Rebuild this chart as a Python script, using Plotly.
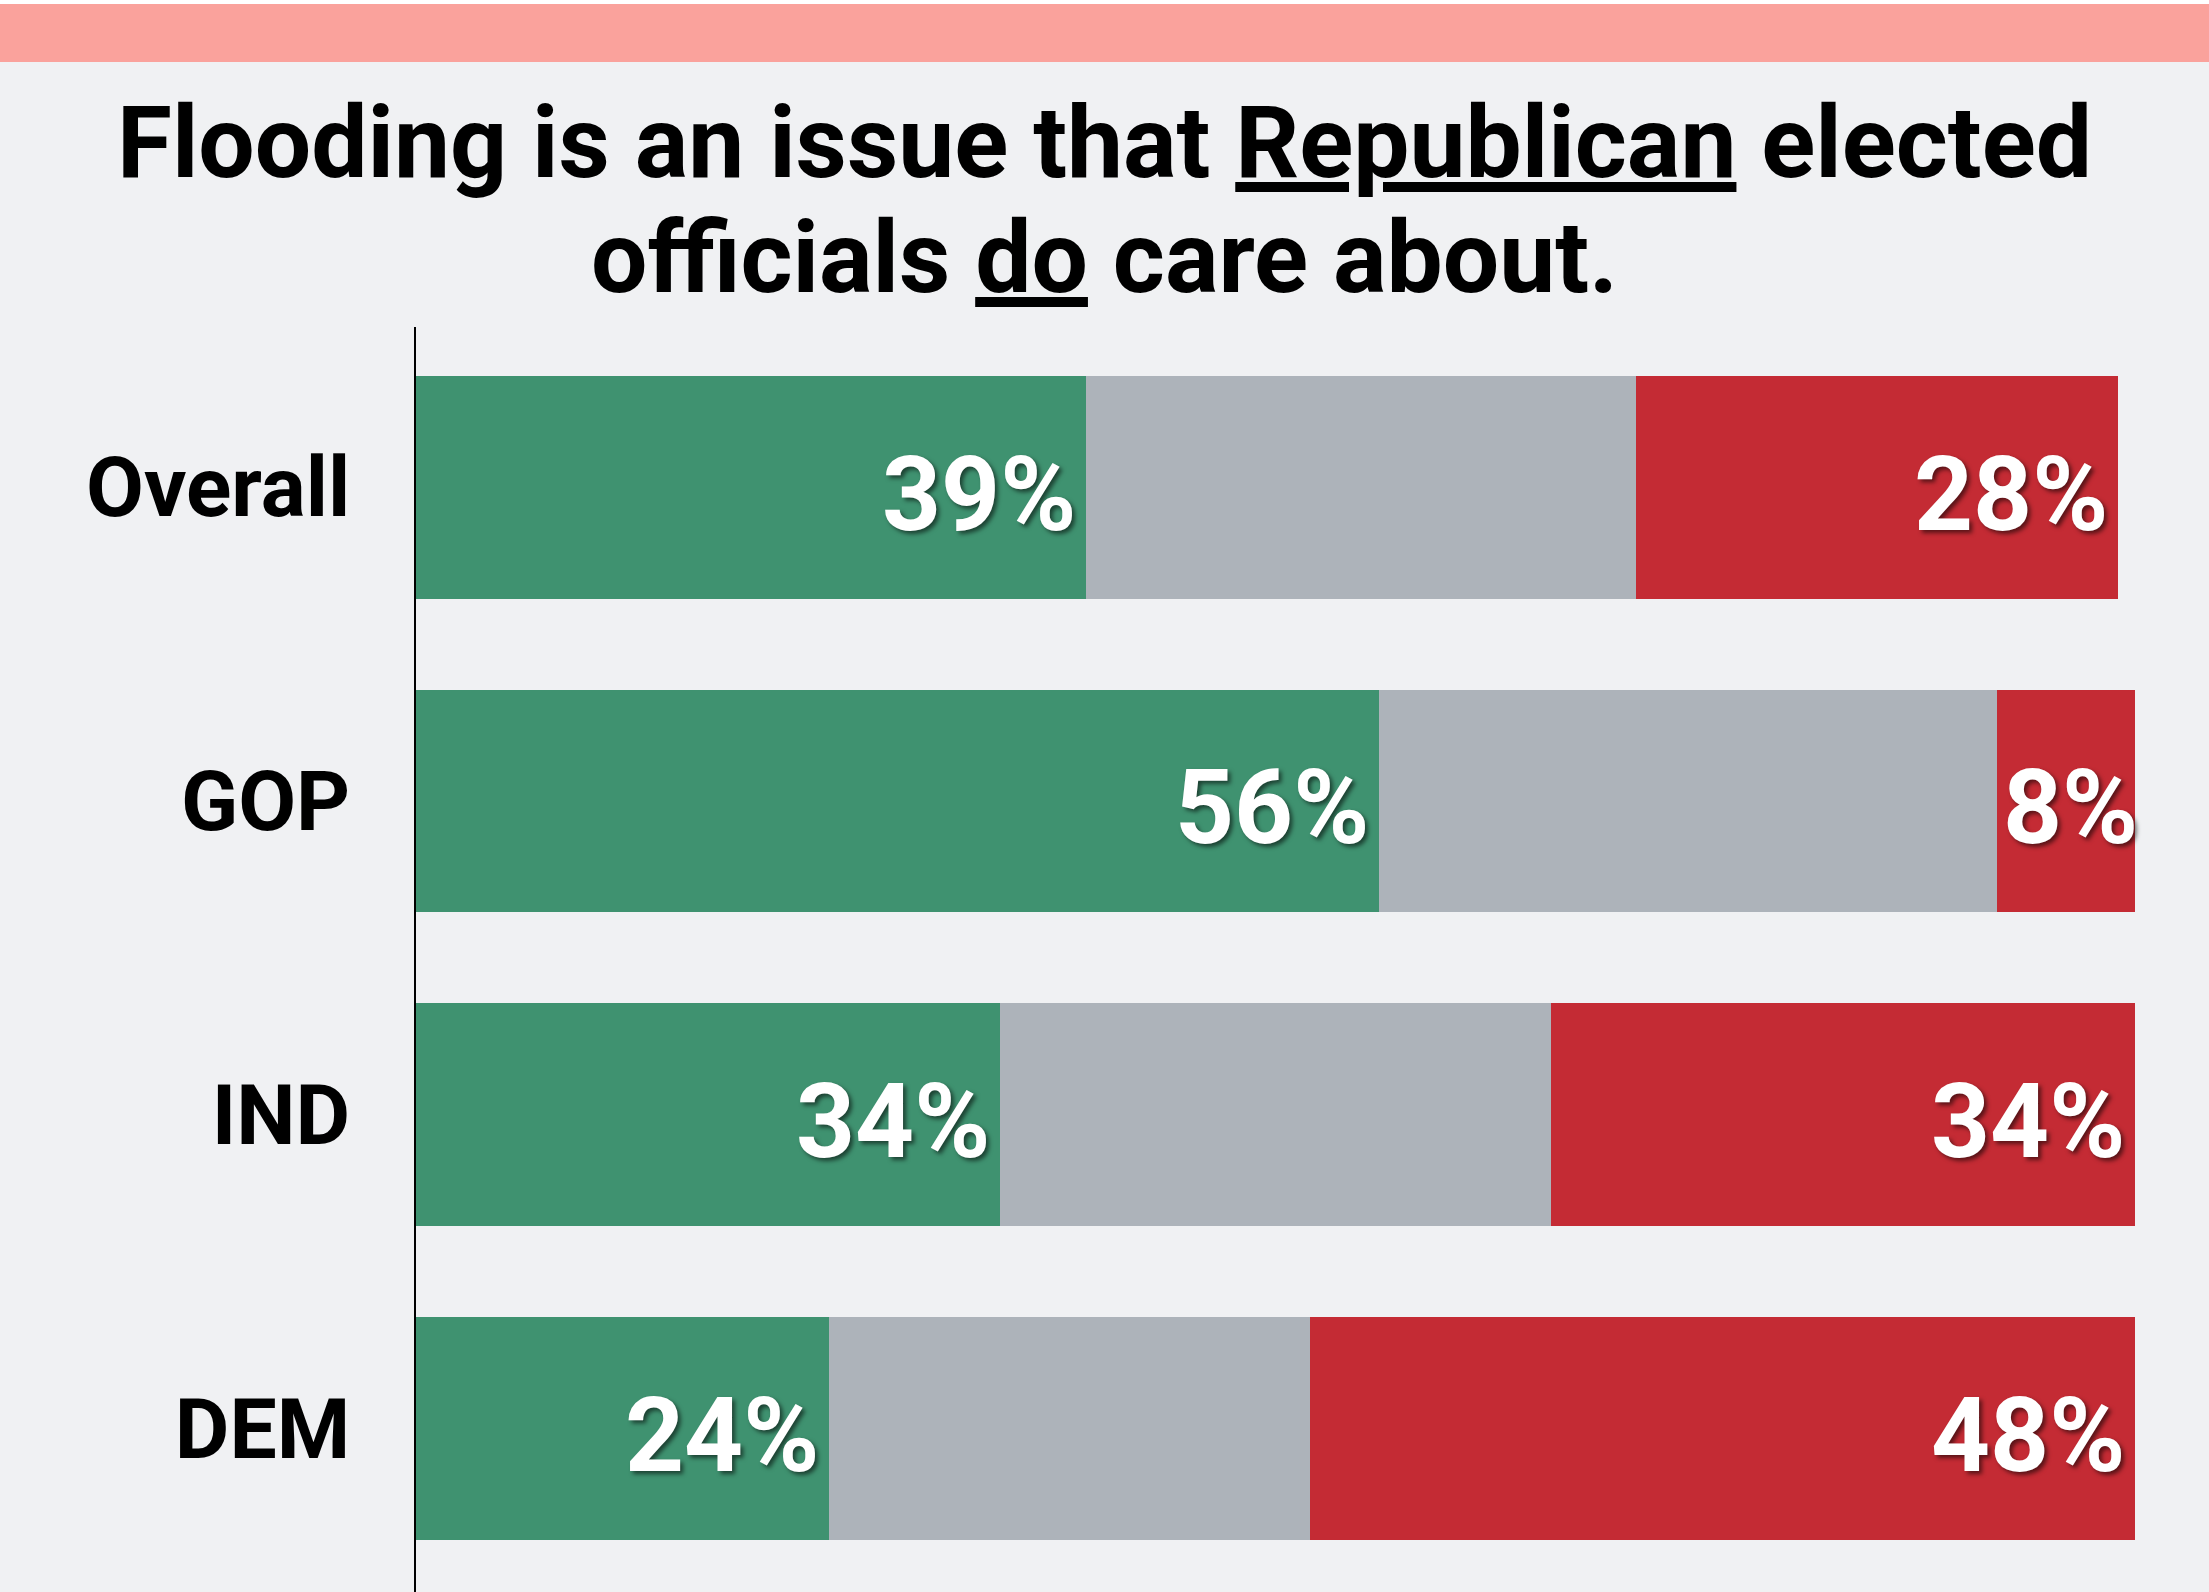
import plotly.graph_objects as go

# Survey responses by party group (percent)
groups = ["Overall", "GOP", "IND", "DEM"]
do_care = [39, 56, 34, 24]
unsure = [32, 36, 32, 28]
do_not_care = [28, 8, 34, 48]

series_names = ["Do care", "Unsure", "Do not care"]
series_colors = ["#3F9270", "#ADB3BA", "#C42B34"]

W, H = 2209, 1592
ML, MR, MT, MB = 416, 74, 327, 0
BG = "#F0F1F3"


def px_x(px):
    return (px - ML) / (W - ML - MR)


def px_y(py):
    return (H - MB - py) / (H - MT - MB)


fig = go.Figure()
for name, vals, color in zip(series_names,
                             [do_care, unsure, do_not_care],
                             series_colors):
    fig.add_trace(go.Bar(
        name=name,
        y=groups,
        x=vals,
        orientation="h",
        marker=dict(color=color, line=dict(width=0)),
        hoverinfo="skip",
    ))

# Percentage labels: "do care" at the end of the green segment,
# "do not care" at the end of the red segment (or its start when narrow)
value_font = dict(family="Roboto", size=103, color="white", weight=700,
                  shadow="3px 3px 4px rgba(0,0,0,0.55)")
for g, c, u, n in zip(groups, do_care, unsure, do_not_care):
    fig.add_annotation(x=c, y=g, text=f"{c}%", showarrow=False,
                       xanchor="right", yanchor="middle",
                       xshift=-8, yshift=-7, font=value_font)
    if n < 10:
        fig.add_annotation(x=c + u, y=g, text=f"{n}%", showarrow=False,
                           xanchor="left", yanchor="middle",
                           xshift=4, yshift=-7, font=value_font)
    else:
        fig.add_annotation(x=c + u + n, y=g, text=f"{n}%", showarrow=False,
                           xanchor="right", yanchor="middle",
                           xshift=-8, yshift=-7, font=value_font)

# Header band
fig.add_shape(type="rect", xref="paper", yref="paper",
              x0=px_x(0), x1=px_x(W), y0=px_y(0), y1=px_y(4),
              fillcolor="white", line=dict(width=0), layer="below")
fig.add_shape(type="rect", xref="paper", yref="paper",
              x0=px_x(0), x1=px_x(W), y0=px_y(4), y1=px_y(62),
              fillcolor="#FAA29C", line=dict(width=0), layer="below")

title_font = dict(family="Roboto", size=100, color="black", weight=700)
fig.add_annotation(text="Flooding is an issue that <u>Republican</u> elected",
                   xref="paper", yref="paper", x=px_x(W / 2), y=px_y(143),
                   xanchor="center", yanchor="middle", showarrow=False,
                   font=title_font)
fig.add_annotation(text="officials <u>do</u> care about.",
                   xref="paper", yref="paper", x=px_x(W / 2), y=px_y(257),
                   xanchor="center", yanchor="middle", showarrow=False,
                   font=title_font)

fig.update_layout(
    width=W, height=H,
    barmode="stack",
    bargap=0.29,
    showlegend=False,
    paper_bgcolor=BG,
    plot_bgcolor=BG,
    margin=dict(l=ML, r=MR, t=MT, b=MB),
    xaxis=dict(visible=False, range=[0, 100], fixedrange=True),
    yaxis=dict(
        type="category",
        categoryorder="array",
        categoryarray=groups,
        range=[3.52, -0.51],
        autorange=False,
        showline=True,
        linecolor="black",
        linewidth=2,
        showgrid=False,
        zeroline=False,
        ticks="",
        ticklabelstandoff=47,
        tickfont=dict(family="Roboto", size=84, color="black", weight=700),
        fixedrange=True,
    ),
)

fig.write_html("out.html")
